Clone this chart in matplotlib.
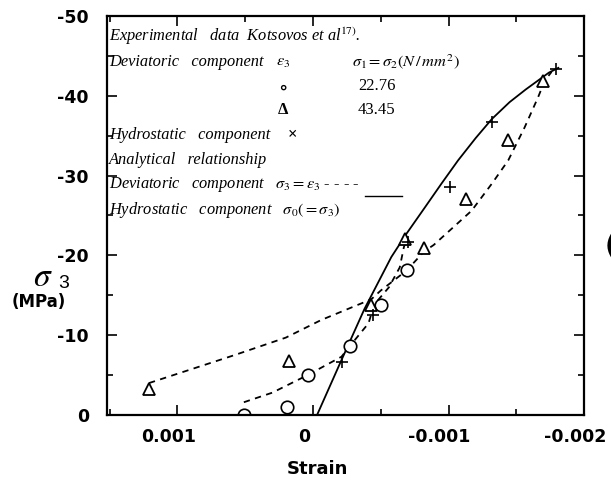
import matplotlib.pyplot as plt
import matplotlib.ticker as mticker
from matplotlib.transforms import ScaledTranslation

plt.rcParams['mathtext.fontset'] = 'stix'
plt.rcParams['axes.unicode_minus'] = False

# experimental points (strain, sigma3 in MPa)
circ_x = [0.00051, 0.00019, 0.00004, -0.00027, -0.00050, -0.00069]
circ_y = [0.0, -1.0, -5.0, -8.7, -13.8, -18.2]

tri_x = [0.00121, 0.000175, -0.00043, -0.00068, -0.00082, -0.00113, -0.00144, -0.0017]
tri_y = [-3.3, -6.8, -13.8, -22.1, -20.9, -27.1, -34.4, -41.9]

plus_x = [-0.000215, -0.00044, -0.0007, -0.00101, -0.00132, -0.00179]
plus_y = [-6.7, -12.5, -21.7, -28.6, -36.7, -43.3]

# analytical curves
hyd_x = [-0.00003, -0.0002, -0.00038, -0.000578, -0.000689, -0.000825, -0.000948, -0.00107, -0.0012, -0.00132,
         -0.00145, -0.00157, -0.00174, -0.00181]
hyd_y = [0.0, -6.5, -13.3, -19.8, -22.7, -26.0, -29.0, -31.9, -34.7, -37.1, -39.2, -40.8, -42.9, -43.5]

dev43_x = [0.00121, 0.00058, 0.0002, -0.00006, -0.00043, -0.0005, -0.00069, -0.00082, -0.00089, -0.00117,
           -0.00132, -0.00144, -0.00156, -0.00166, -0.00171, -0.00176]
dev43_y = [-4.0, -7.5, -9.7, -11.9, -14.5, -15.6, -18.1, -20.5, -21.3, -25.6, -29.0, -31.9, -36.0, -39.8,
           -41.9, -43.0]

dev22_x = [0.00051, 0.0003, 0.00004, -0.00021, -0.00027, -0.00041, -0.00045, -0.00056, -0.00064, -0.00067, -0.00069]
dev22_y = [-1.6, -2.8, -5.0, -7.3, -8.6, -11.5, -13.8, -16.0, -18.5, -21.0, -22.1]

xticks = [0.001, 0.0, -0.001, -0.002]
xtick_labels = ['0.001', '0', '-0.001', '-0.002']
yticks = [0, -10, -20, -30, -40, -50]
ytick_labels = ['0', '-10', '-20', '-30', '-40', '-50']

fig = plt.figure(figsize=(6.11, 4.8), dpi=100)
ax = fig.add_axes([0.175, 0.1354, 0.781, 0.8313])

ax.plot(hyd_x, hyd_y, color='black', lw=1.3)
ax.plot(dev43_x, dev43_y, color='black', lw=1.3, ls=(0, (3.5, 3)))
ax.plot(dev22_x, dev22_y, color='black', lw=1.3, ls=(0, (3.5, 3)))

ax.plot(circ_x, circ_y, 'o', mfc='white', mec='black', mew=1.2, ms=9, ls='none')
ax.plot(tri_x, tri_y, '^', mfc='white', mec='black', mew=1.3, ms=9, ls='none')
ax.plot(plus_x, plus_y, '+', color='black', mew=1.2, ms=9, ls='none')

ax.set_xlim(0.00152, -0.002)
ax.set_ylim(0, -50)

ax.xaxis.set_major_locator(mticker.FixedLocator(xticks))
ax.xaxis.set_major_formatter(mticker.FixedFormatter(xtick_labels))
ax.xaxis.set_minor_locator(mticker.MultipleLocator(0.0005))
ax.yaxis.set_major_locator(mticker.FixedLocator(yticks))
ax.yaxis.set_major_formatter(mticker.FixedFormatter(ytick_labels))
ax.yaxis.set_minor_locator(mticker.MultipleLocator(5))

ax.tick_params(which='both', direction='in', top=True, right=True, width=1.2)
ax.tick_params(which='major', length=7)
ax.tick_params(which='minor', length=4)
ax.tick_params(axis='y', which='major', pad=13)
ax.tick_params(axis='x', which='major', pad=9)
shift = ScaledTranslation(-9 / 100, 0, fig.dpi_scale_trans)
for lab in ax.get_xticklabels():
    lab.set_transform(lab.get_transform() + shift)
for lab in ax.get_xticklabels() + ax.get_yticklabels():
    lab.set_fontfamily('DejaVu Sans')
    lab.set_fontweight('bold')
    lab.set_fontsize(12.5)
for sp in ax.spines.values():
    sp.set_linewidth(1.6)

ax.set_xlabel('Strain', fontfamily='DejaVu Sans', fontweight='bold', fontsize=13, va='center')
ax.xaxis.set_label_coords((317 - 107) / 477, -(469 - 415) / 399)

fig.text(0.054, 1 - 277 / 480, r'$\sigma$', fontsize=24, ha='left', va='center')
fig.text(0.096, 1 - 284 / 480, '3', fontsize=14, ha='left', va='center', fontfamily='Liberation Sans')
fig.text(0.064, 1 - 302 / 480, '(MPa)', fontsize=12, fontweight='bold', ha='center', va='center',
         fontfamily='DejaVu Sans')
fig.text(0.99, 1 - 247 / 480, '(', fontsize=20, fontweight='bold', ha='left', va='center',
         fontfamily='DejaVu Sans')

# legend block written as text
def fy(py):
    return (415 - py) / 399

def fx(px):
    return (px - 107) / 477

tkw = dict(transform=ax.transAxes, fontsize=11.8, va='center', fontfamily='Liberation Serif', style='italic')
ax.text(fx(109), fy(36), r'Experimental   data  Kotsovos et al$^{\mathrm{17)}}$.', **tkw)
ax.text(fx(109), fy(62), 'Deviatoric   component', **tkw)
ax.text(fx(276), fy(62), r'$\varepsilon_3$', **tkw)
ax.text(fx(352), fy(62), r'$\sigma_1 = \sigma_2(N\,/\,mm^2)$', **tkw)
ax.text(fx(283), fy(86), r'$\circ$', transform=ax.transAxes, fontsize=15, ha='center', va='center')
ax.text(fx(358), fy(86), '22.76', transform=ax.transAxes, fontsize=12, va='center', fontfamily='Liberation Serif')
ax.text(fx(283), fy(110), 'Δ', transform=ax.transAxes, fontsize=12, fontweight='bold', ha='center', va='center',
        fontfamily='Liberation Serif')
ax.text(fx(358), fy(110), '43.45', transform=ax.transAxes, fontsize=12, va='center', fontfamily='Liberation Serif')
ax.text(fx(109), fy(135), 'Hydrostatic   component', **tkw)
ax.text(fx(293), fy(135), '×', transform=ax.transAxes, fontsize=12, fontweight='bold', ha='center', va='center',
        fontfamily='Liberation Serif')
ax.text(fx(109), fy(160), 'Analytical   relationship', **tkw)
ax.text(fx(109), fy(185), r'Deviatoric   component   $\sigma_3 = \varepsilon_3$ - - - -', **tkw)
ax.plot([fx(365), fx(402)], [fy(196), fy(196)], color='black', lw=1.0, transform=ax.transAxes)
ax.text(fx(109), fy(210), r'Hydrostatic   component   $\sigma_0(=\sigma_3)$', **tkw)

fig.savefig('out.png', dpi=100)
